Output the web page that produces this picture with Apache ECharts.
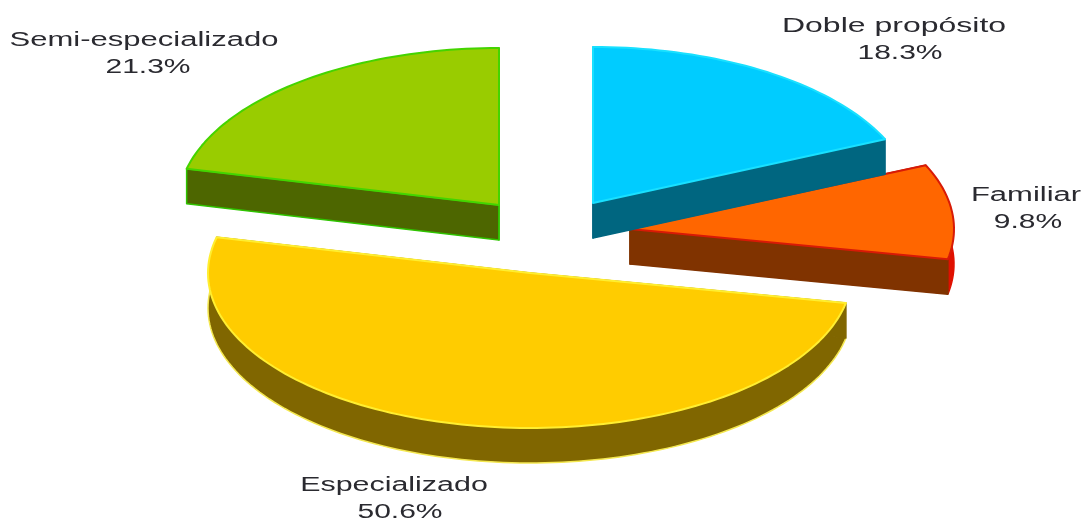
<!DOCTYPE html>
<html>
<head>
<meta charset="utf-8">
<style>html,body{margin:0;padding:0;background:#fff}#chart{width:1084px;height:519px}</style>
<script src="https://cdn.jsdelivr.net/npm/echarts@6/dist/echarts.min.js"></script>
</head>
<body>
<div id="chart"></div>
<script>
// Shares of each production system, clockwise from twelve o'clock.
const categories = ['Doble propósito', 'Familiar', 'Especializado', 'Semi-especializado'];
const shares = [18.3, 9.8, 50.6, 21.3];

// Appearance of each exploded wedge.
const topColors = ['#00ccff', '#ff6600', '#ffcc00', '#99cc00'];
const topStrokes = ['#19e0ff', '#d81a06', '#ffee30', '#44d400'];
const wallColors = ['#006680', '#803300', '#806600', '#4d6600'];
const rimColors = ['#006680', '#e01000', '#806600', '#4d6600'];
const rimStrokes = ['#006680', '#e01000', '#f4e850', '#2fc400'];
const edgeStrokes = ['#006680', '#803300', '#806600', '#2fc400'];
const apexX = [593, 630, 530, 499];
const apexY = [203, 229, 273, 205];
const radiusX = [320, 324, 322, 321];
const radiusY = [156, 156, 155, 157];
const drawOrder = [2, 1, 3, 0];
const nameX = [894, 1026, 394, 144];
const nameY = [26, 195, 485, 40];
const nameStretch = [1.6, 1.55, 1.52, 1.55];
const valueX = [900, 1028, 400, 148];

const DEPTH = 35;
const LINE_GAP = 27;
const VALUE_STRETCH = 1.5;
const TOTAL = shares.reduce((a, b) => a + b, 0);

function rimPoint(i, angle, dy) {
  const a = angle * Math.PI / 180;
  return [apexX[i] + radiusX[i] * Math.sin(a), apexY[i] + dy - radiusY[i] * Math.cos(a)];
}

// Rim of a wedge on the tilted plane, sampled along its arc.
function arcPoints(i, start, end, dy) {
  const pts = [];
  const steps = Math.max(8, Math.ceil((end - start) / 1.5));
  for (let s = 0; s <= steps; s++) {
    pts.push(rimPoint(i, start + (end - start) * s / steps, dy));
  }
  return pts;
}

function wedgeOutline(i, start, end, dy) {
  return [[apexX[i], apexY[i] + dy]].concat(arcPoints(i, start, end, dy));
}

function radialWall(i, angle) {
  const p = rimPoint(i, angle, 0);
  return [[apexX[i], apexY[i]], p, [p[0], p[1] + DEPTH], [apexX[i], apexY[i] + DEPTH]];
}

function renderWedge(params, api) {
  const i = params.dataIndex;
  const before = shares.slice(0, i).reduce((a, b) => a + b, 0);
  const start = before / TOTAL * 360;
  const end = (before + api.value(0)) / TOTAL * 360;
  const z = drawOrder[i] * 10;
  const radialStyle = { fill: wallColors[i], stroke: edgeStrokes[i], lineWidth: 1.5, lineJoin: 'round' };
  const textStyle = { fill: '#2a2a30', fontFamily: 'Liberation Sans', fontSize: 20, align: 'center', verticalAlign: 'middle' };
  return {
    type: 'group',
    children: [
      { type: 'polygon', z2: z, shape: { points: wedgeOutline(i, start, end, DEPTH) }, style: { fill: rimColors[i] } },
      { type: 'polyline', z2: z, shape: { points: arcPoints(i, start, end, DEPTH) },
        style: { fill: null, stroke: rimStrokes[i], lineWidth: 1.5 } },
      { type: 'polygon', z2: z + 1, shape: { points: radialWall(i, start) }, style: radialStyle },
      { type: 'polygon', z2: z + 1, shape: { points: radialWall(i, end) }, style: radialStyle },
      { type: 'polygon', z2: z + 2, shape: { points: wedgeOutline(i, start, end, 0) },
        style: { fill: topColors[i], stroke: topStrokes[i], lineWidth: 2, lineJoin: 'round' } },
      { type: 'text', z2: 100, x: nameX[i], y: nameY[i], scaleX: nameStretch[i],
        style: Object.assign({ text: categories[i] }, textStyle) },
      { type: 'text', z2: 100, x: valueX[i], y: nameY[i] + LINE_GAP, scaleX: VALUE_STRETCH,
        style: Object.assign({ text: api.value(0).toFixed(1) + '%' }, textStyle) }
    ]
  };
}

const chart = echarts.init(document.getElementById('chart'), null, { renderer: 'canvas' });
chart.setOption({
  backgroundColor: '#ffffff',
  animation: false,
  series: [{
    type: 'custom',
    coordinateSystem: 'none',
    silent: true,
    clip: false,
    renderItem: renderWedge,
    data: shares.map((v, i) => ({ name: categories[i], value: [v] }))
  }]
});
</script>
</body>
</html>
